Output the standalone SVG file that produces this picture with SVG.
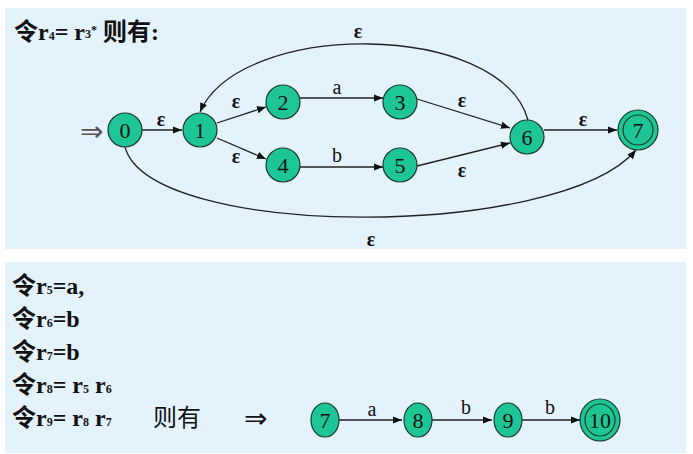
<svg xmlns="http://www.w3.org/2000/svg" width="693" height="454" viewBox="0 0 693 454">
<style>
.n{fill:#1ec695;stroke:#1a3a2a;stroke-width:1.2}
.e{fill:none;stroke:#222;stroke-width:1.3}
.t{font-family:"Liberation Serif",serif;font-size:22px;fill:#111;text-anchor:middle}
.l{font-family:"Liberation Serif",serif;font-size:20px;fill:#111;text-anchor:middle}
.ep{font-family:"Liberation Serif",serif;font-size:20px;font-weight:bold;fill:#111;text-anchor:middle}
.h{font-family:"Liberation Serif","Noto Sans CJK SC",serif;font-size:24px;font-weight:bold;fill:#111}
.s{font-size:12px}
</style>
<defs><marker id="a" viewBox="0 0 10 10" refX="10" refY="5" markerWidth="7" markerHeight="7" orient="auto"><path d="M0,1 L10,5 L0,9z" fill="#111"/></marker></defs>
<rect x="0" y="0" width="693" height="454" fill="#fff"/>
<rect x="5" y="8" width="681" height="241" fill="#e3f2fb"/>
<rect x="5" y="262" width="681" height="191" fill="#e3f2fb"/>
<text class="h" x="14" y="40">令r<tspan class="s">4</tspan>= r<tspan class="s" dy="-2">3</tspan><tspan class="s" dy="-4">*</tspan><tspan dy="6">   则有:</tspan></text>
<g class="h"><text x="12" y="294">令r<tspan class="s">5</tspan>=a,</text>
<text x="12" y="327">令r<tspan class="s">6</tspan>=b</text>
<text x="12" y="360">令r<tspan class="s">7</tspan>=b</text>
<text x="12" y="393">令r<tspan class="s">8</tspan>= r<tspan class="s">5</tspan> r<tspan class="s">6</tspan></text>
<text x="12" y="426">令r<tspan class="s">9</tspan>= r<tspan class="s">8</tspan> r<tspan class="s">7</tspan></text></g>
<text x="153" y="426" font-family="Noto Sans CJK SC,sans-serif" font-size="24" fill="#111">则有</text>
<text x="244" y="428" font-family="DejaVu Sans,sans-serif" font-size="28" fill="#111">⇒</text>
<text x="80" y="141" font-family="DejaVu Sans,sans-serif" font-size="28" fill="#555">⇒</text>
<g id="edges">
<path class="e" d="M142,130 L182,130" marker-end="url(#a)"/>
<path class="e" d="M217,123 L266,107" marker-end="url(#a)"/>
<path class="e" d="M217,138 L266,159" marker-end="url(#a)"/>
<path class="e" d="M300,98 L383,98" marker-end="url(#a)"/>
<path class="e" d="M300,167 L383,167" marker-end="url(#a)"/>
<path class="e" d="M417,99 L510,128" marker-end="url(#a)"/>
<path class="e" d="M417,166 L510,143" marker-end="url(#a)"/>
<path class="e" d="M544,130 L617,130" marker-end="url(#a)"/>
<path class="e" d="M528,120 C500,20 240,20 200,112" marker-end="url(#a)"/>
<path class="e" d="M125,147 C150,240 560,240 636,150" marker-end="url(#a)"/>
<path class="e" d="M339,420 L402,420" marker-end="url(#a)"/>
<path class="e" d="M432,420 L492,420" marker-end="url(#a)"/>
<path class="e" d="M522,420 L580,420" marker-end="url(#a)"/>
<text class="ep" x="161" y="126">ε</text>
<text class="ep" x="236" y="108">ε</text>
<text class="ep" x="236" y="163">ε</text>
<text class="l" x="337" y="94">a</text>
<text class="l" x="337" y="162">b</text>
<text class="ep" x="462" y="107">ε</text>
<text class="ep" x="462" y="177">ε</text>
<text class="ep" x="583" y="126">ε</text>
<text class="ep" x="358" y="38">ε</text>
<text class="ep" x="371" y="246">ε</text>
<text class="l" x="372" y="416">a</text>
<text class="l" x="466" y="414">b</text>
<text class="l" x="550" y="414">b</text>
</g>
<g id="n0"><circle class="n" cx="125" cy="130" r="17"/><text class="t" x="125" y="138">0</text></g>
<g id="n1"><circle class="n" cx="200" cy="130" r="17"/><text class="t" x="200" y="138">1</text></g>
<g id="n2"><circle class="n" cx="283" cy="102" r="17"/><text class="t" x="283" y="110">2</text></g>
<g id="n4"><circle class="n" cx="283" cy="165" r="17"/><text class="t" x="283" y="173">4</text></g>
<g id="n3"><circle class="n" cx="400" cy="102" r="17"/><text class="t" x="400" y="110">3</text></g>
<g id="n5"><circle class="n" cx="400" cy="165" r="17"/><text class="t" x="400" y="173">5</text></g>
<g id="n6"><circle class="n" cx="527" cy="137" r="17"/><text class="t" x="527" y="145">6</text></g>
<g id="n7"><circle class="n" cx="638" cy="130" r="20"/><circle class="n" cx="638" cy="130" r="15"/><text class="t" x="638" y="138">7</text></g>
<g id="m7"><ellipse class="n" cx="325" cy="420" rx="14" ry="17"/><text class="t" x="325" y="428">7</text></g>
<g id="m8"><ellipse class="n" cx="418" cy="420" rx="14" ry="17"/><text class="t" x="418" y="428">8</text></g>
<g id="m9"><ellipse class="n" cx="508" cy="420" rx="14" ry="17"/><text class="t" x="508" y="428">9</text></g>
<g id="m10"><ellipse class="n" cx="600" cy="420" rx="20" ry="21"/><ellipse class="n" cx="600" cy="420" rx="15" ry="16"/><text class="t" x="600" y="428">10</text></g>
</svg>
